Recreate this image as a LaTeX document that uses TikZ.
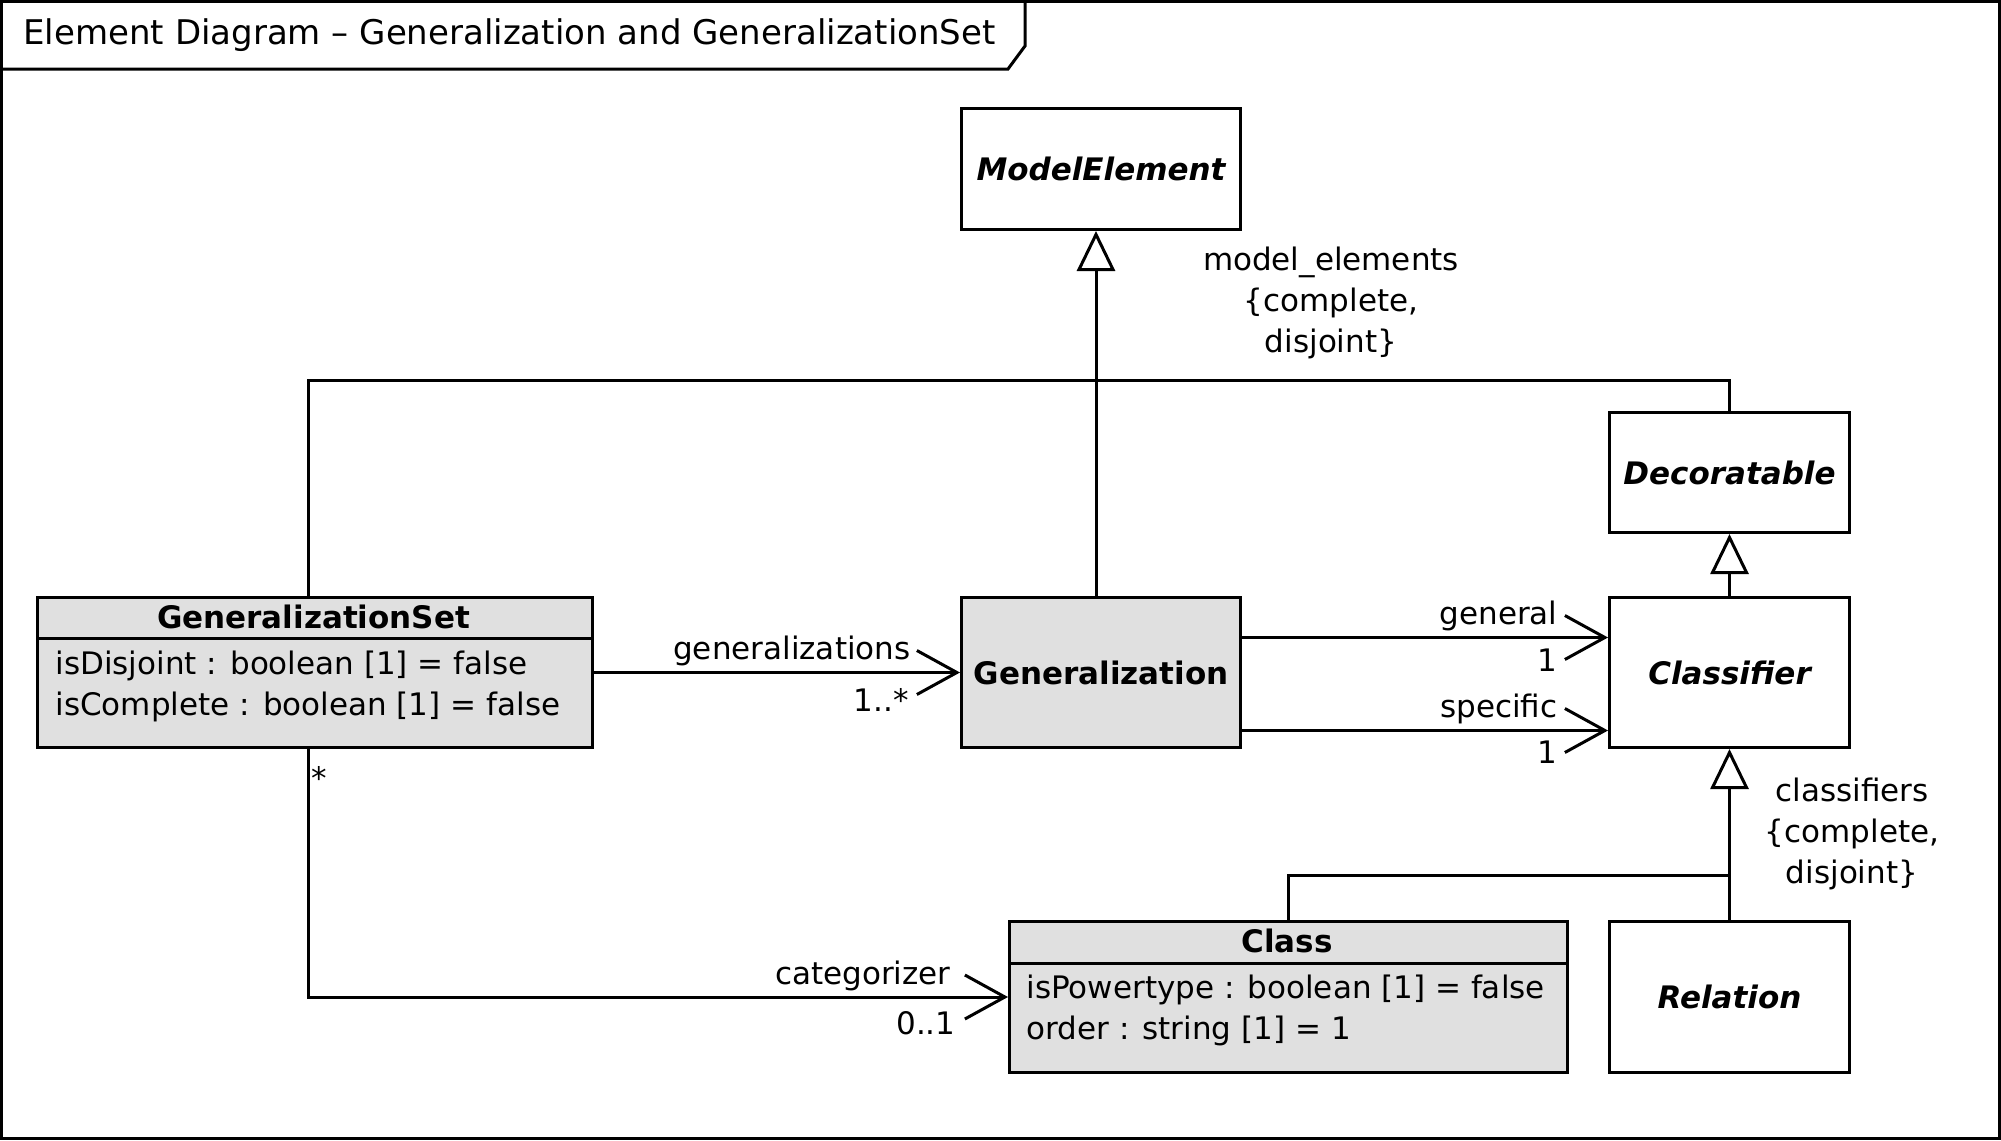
\documentclass[tikz,border=0pt]{standalone}
\usepackage{fontspec}
\setmainfont{DejaVu Sans}
\usetikzlibrary{arrows.meta}
\definecolor{boxgray}{RGB}{224,224,224}
\begin{document}
\begin{tikzpicture}[x=1pt,y=-1pt, line width=3pt,
  every node/.style={font=\fontsize{31}{38}\selectfont, inner sep=0pt},
  umlbox/.style={draw, line width=3pt, anchor=north west, inner sep=0pt},
  graybox/.style={umlbox, fill=boxgray},
  lbl/.style={anchor=east},
  attr/.style={anchor=west},
  assoc/.style={-{Straight Barb[length=40pt,width=44pt,line width=3pt]}},
  inherit/.style={-{Triangle[open,length=40pt,width=38pt,fill=white,line width=3pt]}}
]
\useasboundingbox (0,0) rectangle (2001,1140);
% frame
\draw (1.5,1.5) rectangle (1999.5,1138.5);
\draw (1.5,69) -- (1008,69) -- (1025,46) -- (1025,1.5);
\node[anchor=west, font=\fontsize{34}{40}\selectfont] (title) at (22,35) {Element Diagram – Generalization and GeneralizationSet};

% boxes
\node[umlbox, minimum width=279pt, minimum height=121pt] (me) at (960,107) {\bfseries\itshape ModelElement};
\node[umlbox, minimum width=240pt, minimum height=120pt] (dec) at (1608,411) {\bfseries\itshape Decoratable};
\node[umlbox, minimum width=240pt, minimum height=150pt] (clf) at (1608,596) {\bfseries\itshape Classifier};
\node[umlbox, minimum width=240pt, minimum height=151pt] (rel) at (1608,920) {\bfseries\itshape Relation};
\node[graybox, minimum width=279pt, minimum height=150pt] (gen) at (960,596) {\bfseries Generalization};

\node[graybox, minimum width=555pt, minimum height=150pt] (gs) at (36,596) {};
\draw (gs.west |- 0,638) -- (gs.east |- 0,638);
\node (gsname) at (313.5,617) {\bfseries GeneralizationSet};
\node[attr] (gsa1) at (54,666) {isDisjoint : boolean [1] = false};
\node[attr] (gsa2) at (54,707) {isComplete : boolean [1] = false};

\node[graybox, minimum width=558pt, minimum height=151pt] (cls) at (1008,920) {};
\draw (cls.west |- 0,963) -- (cls.east |- 0,963);
\node (clsname) at (1287,941) {\bfseries Class};
\node[attr] (clsa1) at (1025,990) {isPowertype : boolean [1] = false};
\node[attr] (clsa2) at (1025,1031) {order : string [1] = 1};

% generalizations (inheritance)
\draw[inherit] ([xshift=-5pt]gen.north) -- ([xshift=-5pt]me.south);
\draw[inherit] (clf.north) -- (dec.south);
\draw[inherit] (rel.north) -- (clf.south);
\coordinate (j2) at (clf.south |- 0,875);
\draw (cls.north) |- (j2);
\coordinate (gstop) at ([xshift=-7pt]gs.north);
\coordinate (gsbot) at ([xshift=-7pt]gs.south);
\draw (gstop) |- ([yshift=31pt]dec.north) -- (dec.north);

\node[align=center] (melbl) at (1331,303) {model\_elements\\[3pt]\{complete,\\[3pt]disjoint\}};
\node[align=center] (clflbl) at (1852,834) {classifiers\\[3pt]\{complete,\\[3pt]disjoint\}};

% associations
\draw[assoc] (gs.east) -- (gen.west);
\node[lbl] (l1) at (912,651) {generalizations};
\node[lbl] (m1) at (910,700) {1..*};

\draw[assoc] ([yshift=35pt]gen.east) -- ([yshift=35pt]clf.west);
\node[lbl] (l2) at (1559,616) {general};
\node[lbl] (m2) at (1559,660) {1};

\draw[assoc] ([yshift=-58pt]gen.east) -- ([yshift=-58pt]clf.west);
\node[lbl] (l3) at (1559,709) {specific};
\node[lbl] (m3) at (1559,752) {1};

\draw[assoc] (gsbot) |- (cls.west);
\node[anchor=west] (m4s) at (310,778) {*};
\node[lbl] (l4) at (952,976) {categorizer};
\node[lbl] (m4) at (957,1023) {0..1};
\end{tikzpicture}
\end{document}
